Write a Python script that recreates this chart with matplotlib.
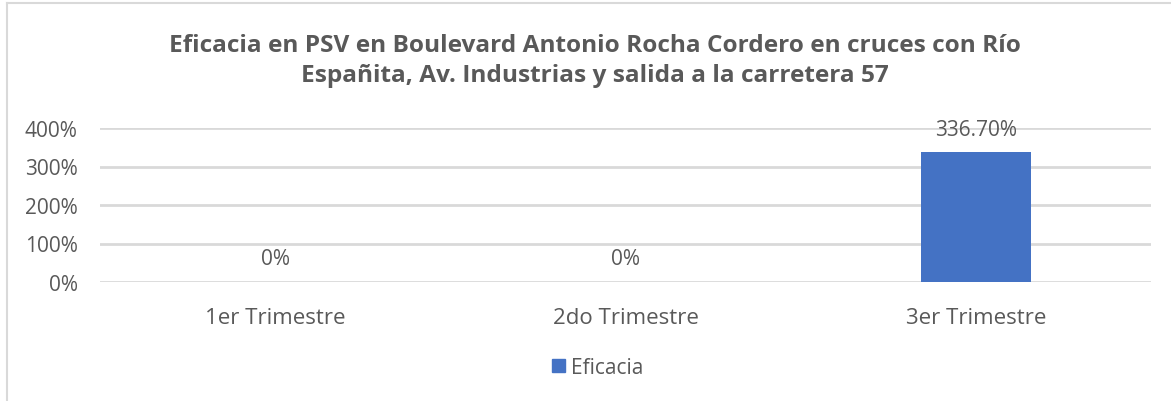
import matplotlib
matplotlib.use("Agg")
import matplotlib.pyplot as plt
from matplotlib.lines import Line2D
from matplotlib.patches import Patch

categories = ["1er Trimestre", "2do Trimestre", "3er Trimestre"]
eficacia = [0.0, 0.0, 336.7]
value_labels = ["0%", "0%", "336.70%"]
y_ticks = [0, 100, 200, 300, 400]
title = ("Eficacia en PSV en Boulevard Antonio Rocha Cordero en cruces con Río\n"
         "Españita, Av. Industrias y salida a la carretera 57")

W, H = 1171, 402
TXT = "#595959"
GRID = "#d9d9d9"
BLUE = "#4472C4"
plt.rcParams['font.family'] = ['Open Sans', 'DejaVu Sans']

fig = plt.figure(figsize=(W / 100, H / 100), dpi=100)
ax = fig.add_axes([100 / W, 1 - 283 / H, 1051 / W, 154 / H])

x = range(len(categories))
ax.bar(x, eficacia, width=0.314, color=BLUE, zorder=3)
ax.set_xlim(-0.5, len(categories) - 0.5)
ax.set_ylim(0, 400)
ax.set_yticks(y_ticks)
ax.set_yticklabels([f"{t}%" for t in y_ticks])
ax.set_xticks(list(x))
ax.set_xticklabels(categories)
ax.tick_params(axis="both", length=0, colors=TXT)
ax.tick_params(axis="y", pad=16, labelsize=15)
ax.tick_params(axis="x", pad=18, labelsize=16)
ax.grid(axis="y", color=GRID, linewidth=2, zorder=0)
for s in ax.spines.values():
    s.set_visible(False)

for xi, v, lab in zip(x, eficacia, value_labels):
    ax.annotate(lab, (xi, v), xytext=(0, 9), textcoords="offset points",
                ha="center", va="bottom", fontsize=15, color=TXT)

fig.text(595 / W, 1 - 61 / H, title, ha="center", va="center",
         fontsize=17.6, fontweight="bold", color=TXT, linespacing=1.38)

fig.legend(handles=[Patch(color=BLUE, label="Eficacia")], loc="center",
           bbox_to_anchor=(598 / W, 1 - 368 / H), frameon=False,
           fontsize=15, labelcolor=TXT, handlelength=0.6, handleheight=0.6,
           handletextpad=0.3)

# chart frame (only top and left edges are visible in the crop)
fig.add_artist(Line2D([7 / W, 1], [1 - 4 / H, 1 - 4 / H], color=GRID, linewidth=1.5))
fig.add_artist(Line2D([7 / W, 7 / W], [0, 1 - 4 / H], color=GRID, linewidth=1.5))

fig.savefig("out.png", dpi=100)
